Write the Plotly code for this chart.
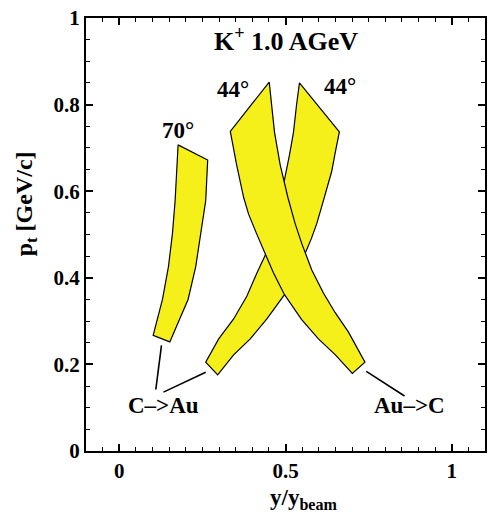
import plotly.graph_objects as go

# 70 degree band (C->Au), outline vertices in data units (y/ybeam, pt)
band70_x = [0.177, 0.266, 0.260, 0.246, 0.230, 0.207, 0.152, 0.102, 0.130, 0.148, 0.160, 0.168, 0.173, 0.177]
band70_y = [0.707, 0.672, 0.578, 0.502, 0.426, 0.350, 0.252, 0.267, 0.350, 0.426, 0.502, 0.578, 0.654, 0.707]

# 44 degree band, C->Au (rising to the right)
bandA_x = [0.542, 0.662, 0.650, 0.639, 0.611, 0.594, 0.578, 0.559, 0.530, 0.497, 0.444, 0.394, 0.344, 0.296,
           0.260, 0.299, 0.344, 0.384, 0.414, 0.439, 0.470, 0.497, 0.512, 0.524, 0.533, 0.542]
bandA_y = [0.850, 0.737, 0.691, 0.646, 0.570, 0.525, 0.491, 0.456, 0.409, 0.361, 0.305, 0.259, 0.222, 0.176,
           0.205, 0.259, 0.305, 0.358, 0.411, 0.452, 0.541, 0.627, 0.684, 0.736, 0.798, 0.850]

# 44 degree band, Au->C (falling to the right)
bandB_x = [0.451, 0.467, 0.484, 0.507, 0.529, 0.549, 0.579, 0.614, 0.649, 0.689, 0.739,
           0.701, 0.650, 0.599, 0.548, 0.497, 0.464, 0.440, 0.413, 0.389, 0.374, 0.353, 0.334, 0.451]
bandB_y = [0.852, 0.736, 0.661, 0.586, 0.525, 0.479, 0.418, 0.365, 0.320, 0.275, 0.205,
           0.179, 0.222, 0.259, 0.304, 0.361, 0.411, 0.452, 0.502, 0.547, 0.586, 0.661, 0.738, 0.852]

# leader lines from labels to bands
lead1_x = [0.127, 0.110]
lead1_y = [0.244, 0.142]
lead2_x = [0.133, 0.260]
lead2_y = [0.136, 0.182]
lead3_x = [0.743, 0.858]
lead3_y = [0.184, 0.127]

# labels
label_text = ["K<sup>+</sup> 1.0 AGeV", "70°", "44°", "44°", "C–&gt;Au", "Au–&gt;C"]
label_x = [0.50, 0.177, 0.341, 0.664, 0.132, 0.873]
label_y = [0.950, 0.741, 0.834, 0.841, 0.106, 0.106]
label_size = [26, 23, 23, 23, 23, 23]

xtick_vals = [0, 0.5, 1]
xtick_text = ["0", "0.5", "1"]
ytick_vals = [0, 0.2, 0.4, 0.6, 0.8, 1]
ytick_text = ["0", "0.2", "0.4", "0.6", "0.8", "1"]

x_title = "y/y<sub>beam</sub>"
y_title = "p<sub>t</sub> [GeV/c]"

FONT = "Liberation Serif, Times New Roman, serif"
YELLOW = "#f5f01a"

fig = go.Figure()
for bx, by in [(band70_x, band70_y), (bandA_x, bandA_y), (bandB_x, bandB_y)]:
    fig.add_trace(go.Scatter(x=bx, y=by, mode="lines", fill="toself", fillcolor=YELLOW,
                             line=dict(color="black", width=1.2), hoverinfo="skip", showlegend=False))
for lx, ly in [(lead1_x, lead1_y), (lead2_x, lead2_y), (lead3_x, lead3_y)]:
    fig.add_trace(go.Scatter(x=lx, y=ly, mode="lines", line=dict(color="black", width=1.6),
                             hoverinfo="skip", showlegend=False))

for t, x, y, s in zip(label_text, label_x, label_y, label_size):
    fig.add_annotation(x=x, y=y, xref="x", yref="y", text=t, showarrow=False,
                       font=dict(family=FONT, size=s, color="black", weight="bold"),
                       xanchor="center", yanchor="middle")

# axis titles (placed in paper coordinates outside the plotting area)
fig.add_annotation(x=-0.150, y=0.57, xref="paper", yref="paper", text=y_title, showarrow=False,
                   textangle=-90, font=dict(family=FONT, size=24, color="black", weight="bold"),
                   xanchor="center", yanchor="middle")
fig.add_annotation(x=0.546, y=-0.110, xref="paper", yref="paper", text=x_title, showarrow=False,
                   font=dict(family=FONT, size=23, color="black", weight="bold"),
                   xanchor="center", yanchor="middle")

axis_common = dict(showline=True, linecolor="black", linewidth=2, mirror="allticks",
                   ticks="inside", ticklen=7, tickwidth=1.5, tickcolor="black",
                   showgrid=False, zeroline=False, ticklabeloverflow="allow",
                   tickfont=dict(family=FONT, size=21, color="black", weight="bold"))
fig.update_xaxes(range=[-0.1, 1.1], tickmode="array", tickvals=xtick_vals, ticktext=xtick_text,
                 minor=dict(dtick=0.05, ticks="inside", ticklen=4, tickcolor="black", tickwidth=1.2),
                 **axis_common)
fig.update_yaxes(range=[0, 1], tickmode="array", tickvals=ytick_vals, ticktext=ytick_text,
                 minor=dict(dtick=0.05, ticks="inside", ticklen=4, tickcolor="black", tickwidth=1.2),
                 **axis_common)

fig.update_layout(width=493, height=522, margin=dict(l=86, r=6, t=11, b=71),
                  plot_bgcolor="white", paper_bgcolor="white",
                  font=dict(family=FONT, color="black"))

fig.write_html("out.html")
